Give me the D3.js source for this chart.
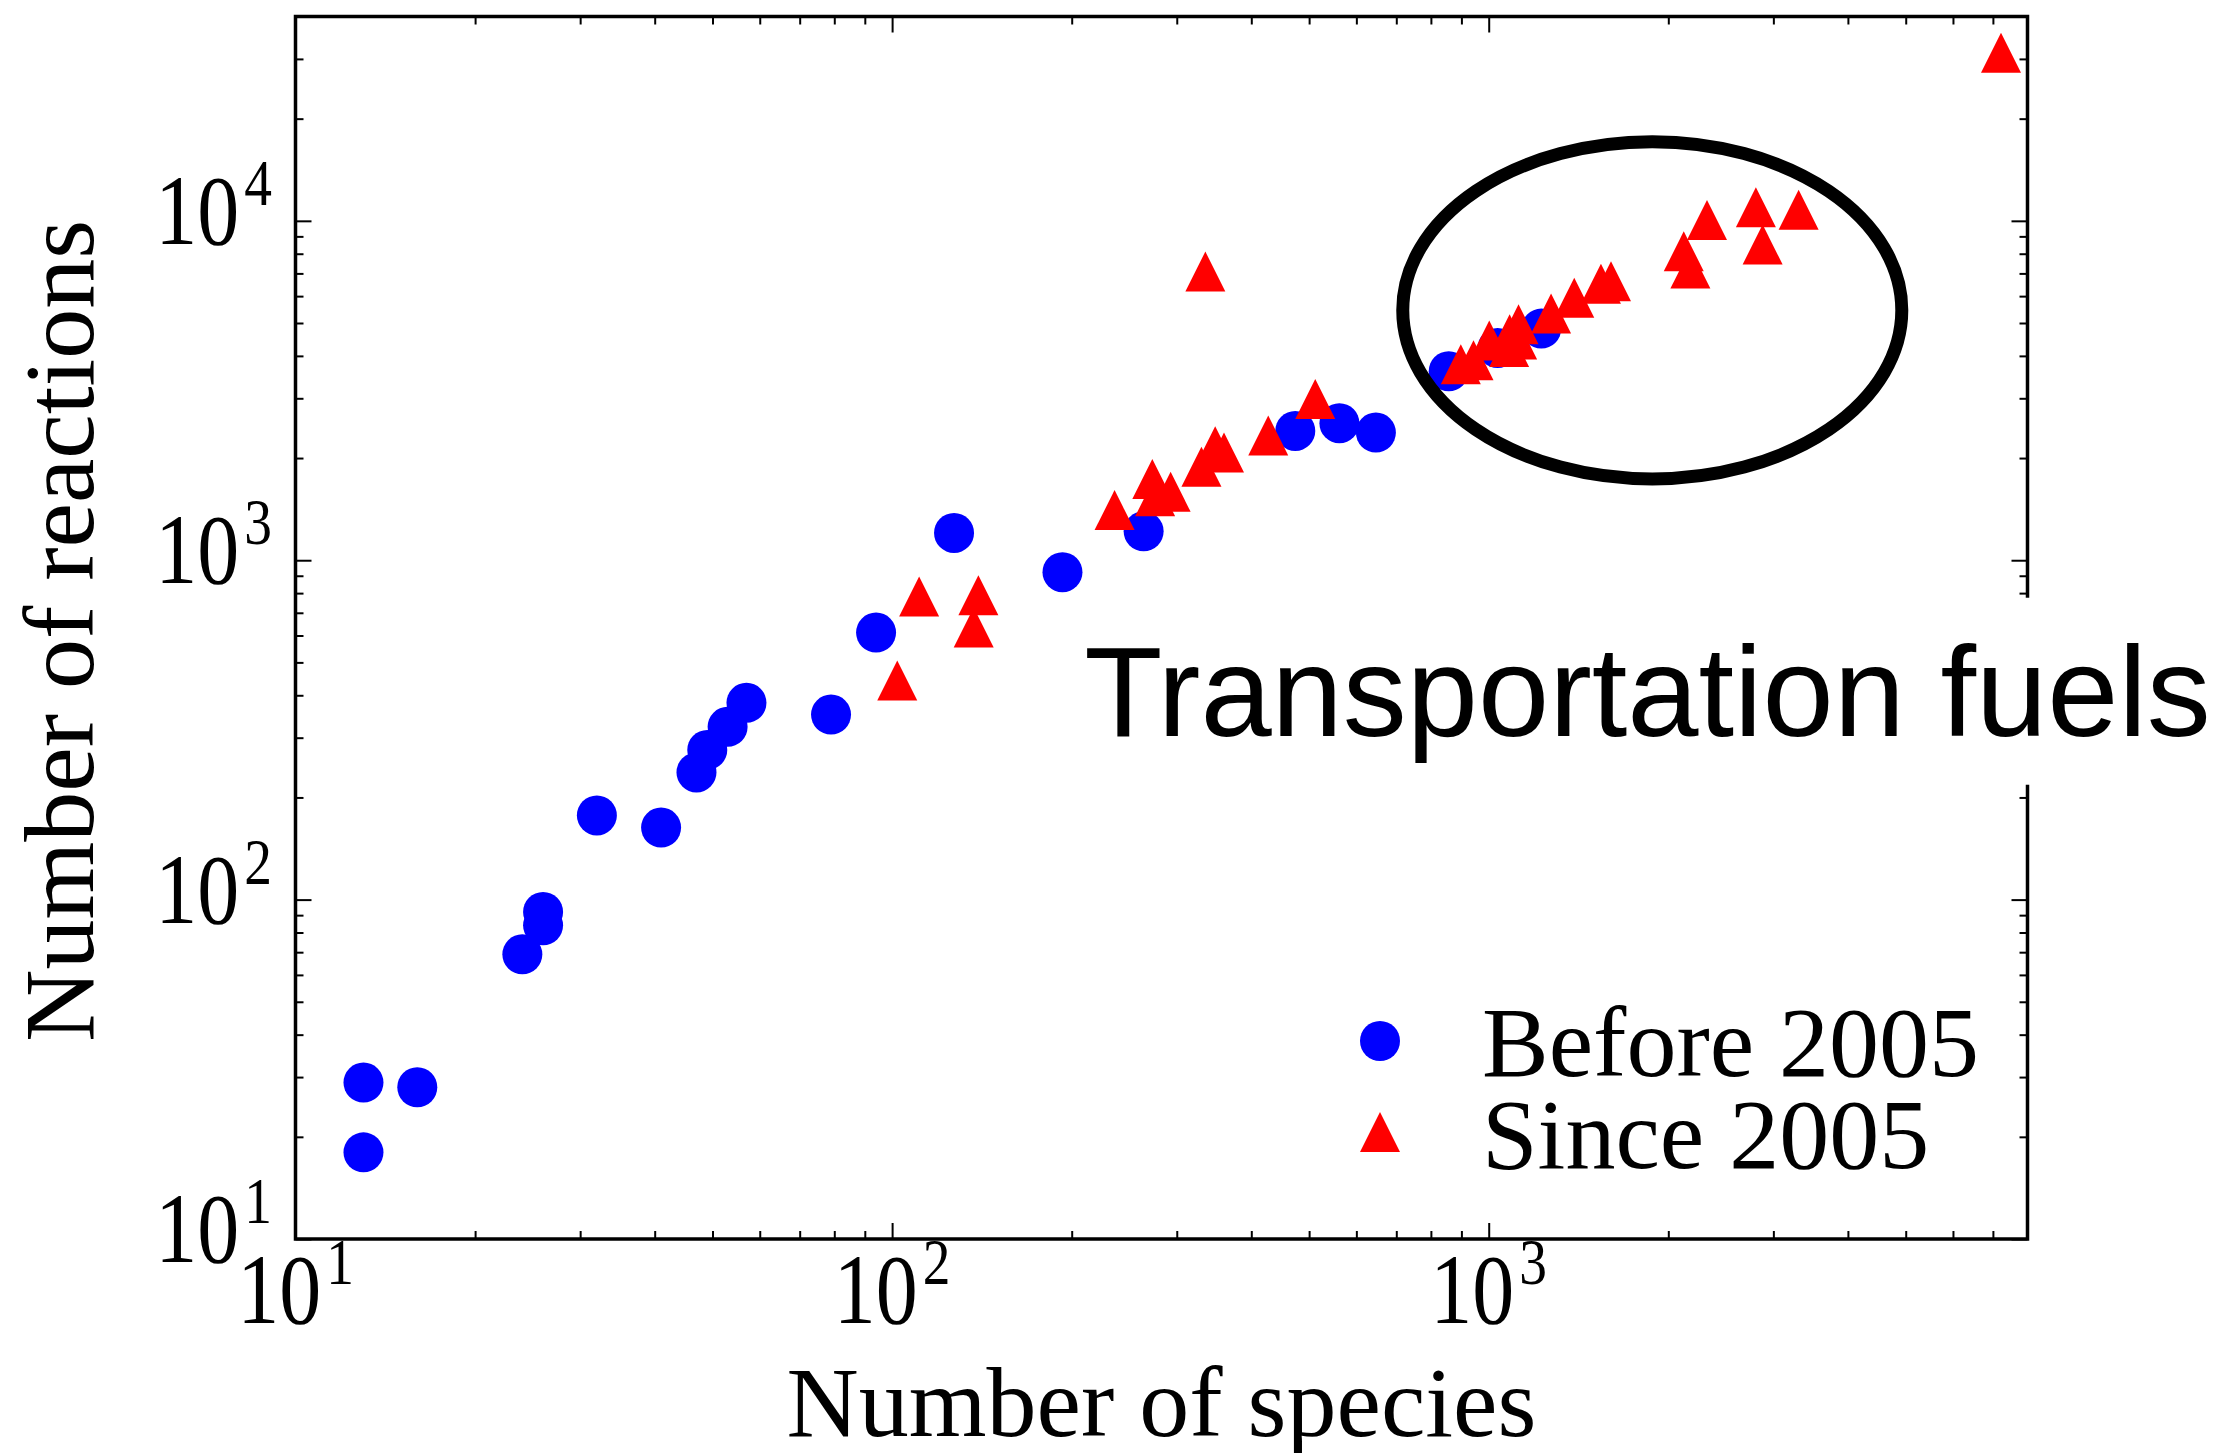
<!DOCTYPE html>
<html>
<head>
<meta charset="utf-8">
<script src="https://cdn.jsdelivr.net/npm/d3@7"></script>
<style>
  html, body { margin: 0; padding: 0; background: #ffffff; }
  svg { display: block; }
</style>
</head>
<body>
<svg id="chart" width="2222" height="1453"></svg>
<script>
// Kinetic mechanisms published before 2005: number of species and number of reactions
const beforeSpecies   = [13, 13, 16, 24, 26, 26, 32, 41, 47, 49, 53, 57, 79, 94, 127, 193, 264, 474, 562, 647, 857, 1035, 1225];
const beforeReactions = [28.9, 18, 28, 69, 92, 84, 177, 163, 237, 276, 323, 380, 351, 612, 1203, 922, 1217, 2404, 2533, 2378, 3604, 4220, 4813];

// Mechanisms published since 2005
const sinceSpecies   = [102, 111, 139.5, 137, 236, 273, 293, 276, 330, 348, 360, 335, 427, 512,
                        898, 943, 1002, 1082, 1084, 1116, 1122, 1272, 1391, 1542, 1603,
                        2123, 2178, 2322, 2804, 2878, 3307, 7222];
const sinceReactions = [442, 782, 788, 633, 1405, 1736, 1590, 1543, 1886, 2165, 2077, 7090, 2330, 2986,
                        3778, 3881, 4437, 4249, 4632, 4468, 4955, 5329, 5939, 6531, 6634,
                        8130, 7231, 10050, 10960, 8514, 10790, 31300];

const seriesNames = ["Before 2005", "Since 2005"];
const xTickValues = [10, 100, 1000];
const yTickValues = [10, 100, 1000, 10000];
const xLabel = "Number of species";
const yLabel = "Number of reactions";
const highlightLabel = "Transportation fuels";

// Highlight ellipse, given in data units: centre and horizontal / vertical extent
const ellipseCentre = [1880, 5450];
const ellipseXExtent = [717, 4920];
const ellipseYExtent = [1734, 17080];
// Data-space anchor of the highlight label (start of baseline)
const highlightAnchor = [210, 304];

const svg = d3.select("#chart");
const W = 2222, H = 1453;
const plot = { left: 295.5, right: 2027.5, top: 16.5, bottom: 1239 };

svg.append("rect").attr("width", W).attr("height", H).attr("fill", "#ffffff");

const x = d3.scaleLog().domain([10, 8000]).range([plot.left, plot.right]);
const y = d3.scaleLog().domain([10, 40000]).range([plot.bottom, plot.top]);

const blue = "#0000ff", red = "#ff0000";
const markerR = 20;
const triPath = "M0,-20L20,20L-20,20Z";

const before = beforeSpecies.map((s, i) => ({ s, r: beforeReactions[i] }));
const since = sinceSpecies.map((s, i) => ({ s, r: sinceReactions[i] }));

// Points
svg.append("g").selectAll("circle").data(before).join("circle")
  .attr("cx", d => x(d.s)).attr("cy", d => y(d.r)).attr("r", markerR)
  .attr("fill", blue);

svg.append("g").selectAll("path").data(since).join("path")
  .attr("d", triPath)
  .attr("transform", d => `translate(${x(d.s)},${y(d.r)})`)
  .attr("fill", red);

// Highlight ellipse
svg.append("ellipse")
  .attr("cx", x(ellipseCentre[0]))
  .attr("cy", y(ellipseCentre[1]))
  .attr("rx", (x(ellipseXExtent[1]) - x(ellipseXExtent[0])) / 2)
  .attr("ry", (y(ellipseYExtent[0]) - y(ellipseYExtent[1])) / 2)
  .attr("fill", "none").attr("stroke", "#000").attr("stroke-width", 13);

// Minor tick positions for log axes
function minorTicks(scale) {
  const [lo, hi] = scale.domain();
  const out = [];
  for (let d = 10; d < hi; d *= 10) {
    for (let k = 2; k <= 9; k++) {
      const v = k * d;
      if (v > lo && v < hi) out.push(v);
    }
  }
  return out;
}
const xMinor = minorTicks(x), yMinor = minorTicks(y);
const majorLen = 16, minorLen = 8;

function addAxis(axisGen, transform) {
  const g = svg.append("g").attr("transform", transform).call(axisGen);
  g.select(".domain").remove();
  g.selectAll(".tick line").attr("stroke", "#000").attr("stroke-width", 2);
  g.selectAll(".tick text").remove();
  return g;
}

// Inward ticks on all four sides
addAxis(d3.axisBottom(x).tickValues(xTickValues).tickSize(-majorLen).tickFormat(""), `translate(0,${plot.bottom})`);
addAxis(d3.axisBottom(x).tickValues(xMinor).tickSize(-minorLen).tickFormat(""), `translate(0,${plot.bottom})`);
addAxis(d3.axisTop(x).tickValues(xTickValues).tickSize(-majorLen).tickFormat(""), `translate(0,${plot.top})`);
addAxis(d3.axisTop(x).tickValues(xMinor).tickSize(-minorLen).tickFormat(""), `translate(0,${plot.top})`);
addAxis(d3.axisLeft(y).tickValues(yTickValues).tickSize(-majorLen).tickFormat(""), `translate(${plot.left},0)`);
addAxis(d3.axisLeft(y).tickValues(yMinor).tickSize(-minorLen).tickFormat(""), `translate(${plot.left},0)`);
addAxis(d3.axisRight(y).tickValues(yTickValues).tickSize(-majorLen).tickFormat(""), `translate(${plot.right},0)`);
addAxis(d3.axisRight(y).tickValues(yMinor).tickSize(-minorLen).tickFormat(""), `translate(${plot.right},0)`);

// Frame
svg.append("rect")
  .attr("x", plot.left).attr("y", plot.top)
  .attr("width", plot.right - plot.left).attr("height", plot.bottom - plot.top)
  .attr("fill", "none").attr("stroke", "#000").attr("stroke-width", 3.5);

// Power-of-ten tick labels
const serif = "'Liberation Serif', 'Times New Roman', serif";
function powLabel(px, py, v, anchor) {
  const t = svg.append("text")
    .attr("transform", `translate(${px},${py}) scale(0.84,1)`)
    .attr("text-anchor", anchor)
    .attr("font-family", serif).attr("font-size", 100).attr("fill", "#000");
  t.append("tspan").text("10");
  t.append("tspan").attr("dx", 6).attr("dy", -39).attr("font-size", 66)
    .text(Math.round(Math.log10(v)));
}
xTickValues.forEach(v => powLabel(x(v), 1323, v, "middle"));
yTickValues.forEach(v => powLabel(272, y(v) + 23, v, "end"));

// Axis titles
svg.append("text")
  .attr("x", (plot.left + plot.right) / 2).attr("y", 1436)
  .attr("text-anchor", "middle")
  .attr("font-family", serif).attr("font-size", 100).attr("fill", "#000")
  .text(xLabel);

svg.append("text")
  .attr("transform", `translate(93,${(plot.top + plot.bottom) / 2 + 3}) rotate(-90)`)
  .attr("text-anchor", "middle")
  .attr("font-family", serif).attr("font-size", 100).attr("fill", "#000")
  .text(yLabel);

// Legend
const legend = svg.append("g");
legend.append("circle").attr("cx", 1380).attr("cy", 1041).attr("r", markerR).attr("fill", blue);
legend.append("path").attr("d", triPath).attr("transform", "translate(1380,1132)").attr("fill", red);
legend.append("text").attr("x", 1482).attr("y", 1076)
  .attr("font-family", serif).attr("font-size", 100).attr("fill", "#000").text(seriesNames[0]);
legend.append("text").attr("x", 1482).attr("y", 1168)
  .attr("font-family", serif).attr("font-size", 100).attr("fill", "#000").text(seriesNames[1]);

// Highlight label on a white box
const labelG = svg.append("g");
const boxRect = labelG.append("rect").attr("fill", "#ffffff");
const label = labelG.append("text")
  .attr("x", x(highlightAnchor[0])).attr("y", y(highlightAnchor[1]))
  .attr("font-family", "'Liberation Sans', Arial, Helvetica, sans-serif")
  .attr("font-size", 128).attr("fill", "#000")
  .text(highlightLabel);
const bb = label.node().getBBox();
const pad = 22;
boxRect.attr("x", bb.x - pad).attr("y", bb.y - pad)
  .attr("width", bb.width + 2 * pad).attr("height", bb.height + 2 * pad);
</script>
</body>
</html>
